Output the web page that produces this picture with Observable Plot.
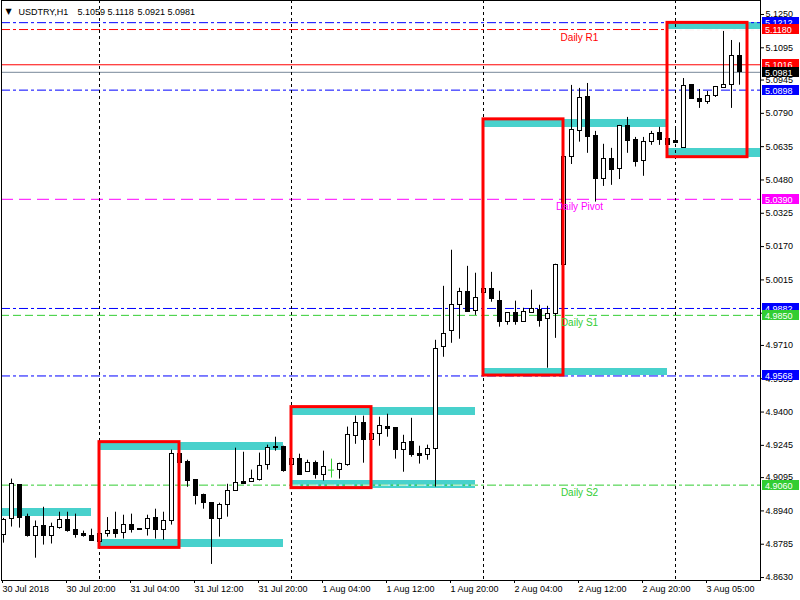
<!DOCTYPE html>
<html><head><meta charset="utf-8">
<script src="https://cdn.jsdelivr.net/npm/d3@7"></script>
<script src="https://cdn.jsdelivr.net/npm/@observablehq/plot@0.6"></script>
<style>body{margin:0;background:#fff}svg{display:block}</style>
</head><body><div id="chart"></div>
<script>
const symbol = "USDTRY,H1";
// H1 candles, bar index 0 = 30 Jul 12:00
const opens = [4.8827,4.8902,4.9060,4.8911,4.8823,4.8869,4.8823,4.8860,4.8897,4.8851,4.8832,4.8823,4.8796,4.8832,4.8851,4.8837,4.8874,4.8855,4.8855,4.8906,4.8851,4.8893,4.9204,4.9167,4.9083,4.9013,4.8976,4.8902,4.8967,4.9032,4.9074,4.9074,4.9083,4.9153,4.9237,4.9237,4.9153,4.9181,4.9120,4.9162,4.9107,4.9130,4.9130,4.9153,4.9288,4.9348,4.9269,4.9297,4.9330,4.9325,4.9223,4.9260,4.9204,4.9199,4.9227,4.9701,4.9776,4.9897,4.9957,4.9869,4.9953,4.9971,4.9916,4.9818,4.9860,4.9818,4.9860,4.9874,4.9832,4.9855,5.0083,5.0585,5.0706,5.0864,5.0683,5.0483,5.0576,5.0529,5.0729,5.0664,5.0566,5.0655,5.0697,5.0669,5.0659,5.0627,5.0920,5.0859,5.0845,5.0869,5.0906,5.0920,5.1059];
const highs = [4.8905,4.9088,4.9062,4.8925,4.8893,4.8957,4.8883,4.8934,4.8934,4.8925,4.8846,4.8855,4.8840,4.8909,4.8934,4.8920,4.8925,4.8855,4.8920,4.8948,4.8934,4.9223,4.9213,4.9176,4.9083,4.9018,4.8976,4.8976,4.9064,4.9232,4.9213,4.9130,4.9209,4.9246,4.9283,4.9241,4.9195,4.9204,4.9176,4.9172,4.9218,4.9181,4.9162,4.9330,4.9381,4.9381,4.9339,4.9376,4.9390,4.9325,4.9292,4.9371,4.9241,4.9246,4.9734,4.9985,5.0153,4.9976,5.0078,5.0046,5.0046,5.0050,4.9962,4.9860,4.9916,4.9883,4.9967,4.9897,4.9892,5.0088,5.0590,5.0920,5.0906,5.0929,5.0706,5.0646,5.0627,5.0734,5.0771,5.0678,5.0678,5.0706,5.0725,5.0720,5.0725,5.0952,5.0920,5.0901,5.0892,5.0915,5.1171,5.1129,5.1118];
const lows = [4.8790,4.8865,4.8860,4.8818,4.8720,4.8781,4.8786,4.8855,4.8841,4.8813,4.8818,4.8800,4.8795,4.8818,4.8813,4.8809,4.8837,4.8851,4.8823,4.8809,4.8804,4.8874,4.8953,4.9050,4.8968,4.8948,4.8691,4.8818,4.8911,4.9032,4.9065,4.9074,4.9079,4.9130,4.9218,4.9120,4.9148,4.9107,4.9120,4.9088,4.9079,4.9093,4.9088,4.9148,4.9250,4.9162,4.9195,4.9241,4.9283,4.9181,4.9120,4.9190,4.9158,4.9176,4.9051,4.9655,4.9720,4.9739,4.9864,4.9850,4.9953,4.9911,4.9795,4.9804,4.9804,4.9818,4.9860,4.9795,4.9604,4.9743,5.0074,5.0552,5.0656,5.0604,5.0377,5.0450,5.0455,5.0482,5.0604,5.0540,5.0497,5.0641,5.0641,5.0641,5.0650,5.0627,5.0859,5.0813,5.0832,5.0864,5.0906,5.0813,5.0921];
const closes = [4.8900,4.9064,4.8906,4.8823,4.8865,4.8823,4.8865,4.8897,4.8846,4.8827,4.8823,4.8800,4.8832,4.8846,4.8832,4.8874,4.8851,4.8851,4.8902,4.8851,4.8893,4.9204,4.9162,4.9079,4.9009,4.8976,4.8902,4.8967,4.9032,4.9069,4.9065,4.9088,4.9148,4.9232,4.9235,4.9125,4.9181,4.9107,4.9162,4.9107,4.9144,4.9130,4.9157,4.9292,4.9348,4.9269,4.9297,4.9334,4.9320,4.9223,4.9255,4.9199,4.9195,4.9227,4.9692,4.9762,4.9897,4.9957,4.9864,4.9929,4.9971,4.9925,4.9818,4.9860,4.9818,4.9864,4.9878,4.9823,4.9855,5.0083,5.0587,5.0711,5.0863,5.0678,5.0483,5.0576,5.0525,5.0729,5.0659,5.0562,5.0655,5.0692,5.0664,5.0641,5.0650,5.0915,5.0859,5.0841,5.0869,5.0911,5.0920,5.1059,5.0981];

const xTickBars = [0,8,16,24,32,40,48,56,64,72,80,88];
const xTickLabels = ["30 Jul 2018","30 Jul 20:00","31 Jul 04:00","31 Jul 12:00","31 Jul 20:00","1 Aug 04:00","1 Aug 12:00","1 Aug 20:00","2 Aug 04:00","2 Aug 12:00","2 Aug 20:00","3 Aug 05:00"];
const yTicks = [5.1250,5.1095,5.0945,5.0790,5.0635,5.0480,5.0325,5.0170,5.0015,4.9860,4.9710,4.9555,4.9400,4.9245,4.9095,4.8940,4.8785,4.8630];
const daySeparators = [12,36,60,84];

// supply/demand zones
const zoneFrom   = [-12,12,12,36,36,60,60,83,83];
const zoneTo     = [11,35,35,59,59,83,83,107,107];
const zoneTop    = [4.8953,4.9260,4.8809,4.9423,4.9083,5.0762,4.9604,5.1211,5.0626];
const zoneBottom = [4.8916,4.9223,4.8768,4.9382,4.9046,5.0726,4.9570,5.1180,5.0586];

// range boxes
const boxFrom = [12,36,60,83];
const boxTo   = [22,46,70,93];
const boxHigh = [4.9260,4.9423,5.0762,5.1211];
const boxLow  = [4.8768,4.9046,4.9570,5.0586];

// horizontal levels
const levelValues = [5.1212,5.1180,5.1016,5.0981,5.0898,5.0390,4.9882,4.9850,4.9568,4.9060];
const levelKinds  = ["blueDD","redDD","ask","bid","blueDD","pivot","blueDD","s1","blueDD","s2"];

const dailyNames  = ["Daily R1","Daily Pivot","Daily S1","Daily S2"];
const dailyValues = [5.1180,5.0390,4.9850,4.9060];
const dailyKinds  = ["redDD","pivot","s1","s2"];
const dailyBar    = [72,72,72,72];

const styles = {
  blueDD:{stroke:"#0000ff",dash:"9,3,3,3",tag:"#0000ff"},
  redDD:{stroke:"#ff0000",dash:"9,3,3,3",tag:"#ff0000"},
  ask:{stroke:"#ff0000",dash:null,tag:"#ff0000"},
  bid:{stroke:"#778899",dash:null,tag:"#000000"},
  pivot:{stroke:"#ff00ff",dash:"12,6",tag:"#ff00ff"},
  s1:{stroke:"#32cd32",dash:"8,4",tag:"#32cd32"},
  s2:{stroke:"#32cd32",dash:"9,3,3,3",tag:"#32cd32"}
};
const headerOffsets = [76,106,136,166];

const candles = opens.map((o,i)=>({k:i,open:o,high:highs[i],low:lows[i],close:closes[i]}));
const zones = zoneFrom.map((f,i)=>({from:f,to:zoneTo[i],top:zoneTop[i],bottom:zoneBottom[i]}));
const boxes = boxFrom.map((f,i)=>({from:f,to:boxTo[i],high:boxHigh[i],low:boxLow[i]}));
const levels = levelValues.map((v,i)=>({value:v,kind:levelKinds[i]}));
const daily = dailyNames.map((n,i)=>({name:n,value:dailyValues[i],kind:dailyKinds[i],bar:dailyBar[i]}));
const last = candles[candles.length-1];
const headerValues = [last.open,last.high,last.low,last.close].map(v=>v.toFixed(4));

// dashed levels crossing a zone show as white dashes inside it
const crossings = [];
levels.forEach(l=>{
  if (!styles[l.kind].dash) return;
  zones.forEach(z=>{ if (l.value>=z.bottom && l.value<z.top) crossings.push({value:l.value,from:z.from,to:z.to,kind:l.kind}); });
});

const dojiColor = "#32cd32";
const chart = Plot.plot({
  width:800, height:600,
  marginLeft:1, marginRight:40, marginTop:0, marginBottom:20,
  style:{background:"#fff",fontFamily:"'Liberation Sans', Arial, sans-serif",fontSize:"9px",color:"black"},
  x:{domain:[-0.25,94.625]},
  y:{domain:[4.86162,5.13151]},
  color:{type:"identity"},
  marks:[
    Plot.rect(zones,{x1:"from",x2:"to",y1:"bottom",y2:"top",fill:"#48d1cc",clip:true,shapeRendering:"crispEdges"}),
    ...levels.map(l=>Plot.ruleY([l.value],{stroke:styles[l.kind].stroke,strokeDasharray:styles[l.kind].dash})),
    ...crossings.map(c=>Plot.ruleY([c],{y:"value",x1:"from",x2:"to",stroke:"white",strokeDasharray:styles[c.kind].dash,clip:true})),
    Plot.ruleX(daySeparators,{stroke:"black",strokeDasharray:"3,3"}),
    Plot.ruleX(candles,{x:"k",y1:"low",y2:"high",stroke:d=>d.open===d.close?dojiColor:"black"}),
    Plot.rect(candles.filter(d=>d.open!==d.close),{x1:d=>d.k-0.25,x2:d=>d.k+0.25,y1:"open",y2:"close",
      fill:d=>d.close>d.open?"white":"black",stroke:"black",shapeRendering:"crispEdges"}),
    Plot.ruleY(candles.filter(d=>d.open===d.close),{y:"open",x1:d=>d.k-0.375,x2:d=>d.k+0.375,stroke:dojiColor}),
    Plot.rect(boxes,{x1:"from",x2:"to",y1:"low",y2:"high",fill:"none",stroke:"#ff0000",strokeWidth:3,clip:true}),
    Plot.text(daily,{x:"bar",y:"value",text:"name",fill:d=>styles[d.kind].tag,fontSize:10,lineAnchor:"top",dy:4}),
    Plot.text(["\u25BC"],{text:d=>d,frameAnchor:"top-left",dx:4,dy:13,lineAnchor:"bottom",fontSize:8,fontFamily:"DejaVu Sans"}),
    Plot.text([symbol],{text:d=>d,frameAnchor:"top-left",dx:17,dy:14,lineAnchor:"bottom",textAnchor:"start",fontSize:9}),
    ...headerValues.map((v,i)=>Plot.text([v],{text:d=>d,frameAnchor:"top-left",dx:headerOffsets[i],dy:14,lineAnchor:"bottom",textAnchor:"start",fontSize:9})),
    Plot.axisY({ticks:yTicks,anchor:"right",tickSize:3,tickPadding:2,tickFormat:d=>d.toFixed(4),label:null,fontSize:9}),
    Plot.axisX({ticks:xTickBars,anchor:"bottom",tickSize:3,tickPadding:2,textAnchor:"start",dx:-1,fontSize:9,
      tickFormat:d=>xTickLabels[xTickBars.indexOf(d)],label:null}),
    Plot.frame({stroke:"black"})
  ]
});

// price tags on the right axis, positioned with the plot's own y scale
const ys = chart.scale("y");
const tg = d3.select(chart).append("g")
  .attr("font-size","9px")
  .attr("font-family","'Liberation Sans', Arial, sans-serif")
  .attr("text-anchor","start");
levels.forEach(l=>{
  const yy = Math.round(ys.apply(l.value));
  tg.append("rect").attr("x",762).attr("y",yy-5).attr("width",37).attr("height",10)
    .attr("fill",styles[l.kind].tag);
  tg.append("text").attr("x",765).attr("y",yy+3.5).attr("fill","white")
    .attr("text-anchor","start").text(l.value.toFixed(4));
});
document.getElementById("chart").append(chart);
</script>
</body></html>
